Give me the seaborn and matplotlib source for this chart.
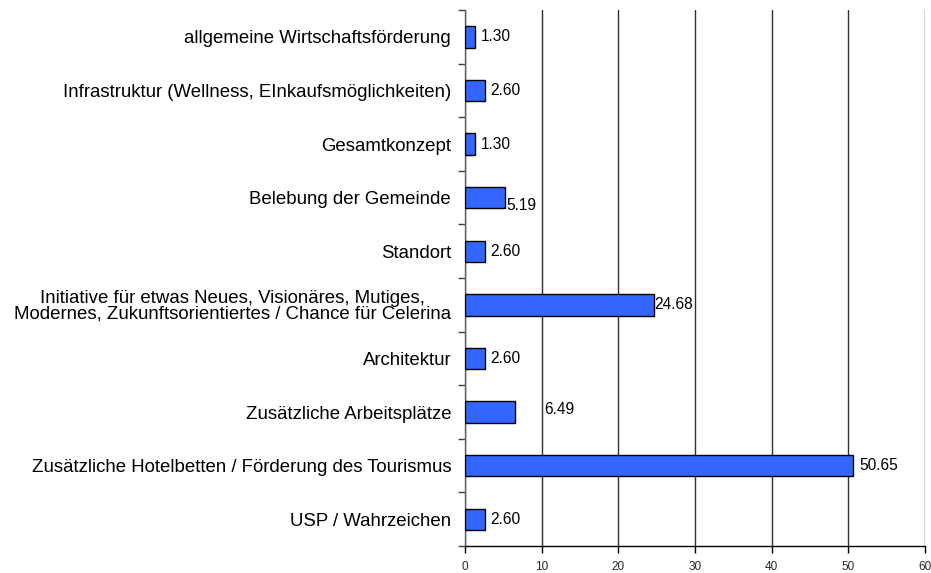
import seaborn as sns
import pandas as pd
import matplotlib.pyplot as plt
from matplotlib.ticker import FixedLocator

categories = [
    "allgemeine Wirtschaftsförderung",
    "Infrastruktur (Wellness, EInkaufsmöglichkeiten)",
    "Gesamtkonzept",
    "Belebung der Gemeinde",
    "Standort",
    "Initiative für etwas Neues, Visionäres, Mutiges,\nModernes, Zukunftsorientiertes / Chance für Celerina",
    "Architektur",
    "Zusätzliche Arbeitsplätze",
    "Zusätzliche Hotelbetten / Förderung des Tourismus",
    "USP / Wahrzeichen",
]
values = [1.30, 2.60, 1.30, 5.19, 2.60, 24.68, 2.60, 6.49, 50.65, 2.60]

# the original places a couple of value labels slightly off the bar end (points)
label_dx = [0, 0, 0, -3, 0, -4, 0, 17, 0, 0]
label_dy = [0, 0, 0, -6, 0, 0, 0, 2, 0, 0]

df = pd.DataFrame({"Kategorie": categories, "Anteil": values})

sns.set_theme(style="white")
plt.rcParams['font.family'] = ['Liberation Sans', 'DejaVu Sans']

fig, ax = plt.subplots(figsize=(9.31, 5.73), dpi=100)
fig.subplots_adjust(left=0.4995, right=0.9936, top=0.9825, bottom=0.047)

sns.barplot(data=df, y="Kategorie", x="Anteil", orient="h", color="#3366FF",
            saturation=1, width=0.4, edgecolor="black", linewidth=1, ax=ax, zorder=3)

ax.set_xlim(0, 60)
ax.set_ylim(len(categories) - 0.5, -0.5)
ax.set_xticks(range(0, 61, 10))
ax.xaxis.grid(True, color="#303030", linewidth=1)
ax.set_axisbelow(True)
ax.set_xlabel("")
ax.set_ylabel("")

for i, v in enumerate(values):
    ax.annotate(f"{v:.2f}", xy=(v, i), xytext=(4 + label_dx[i], label_dy[i]),
                textcoords="offset points", va="center", ha="left",
                fontsize=11.2, color="black", zorder=4)

ax.tick_params(axis="y", which="major", length=0, labelsize=13.4, pad=10, colors="black")
for lbl in ax.get_yticklabels():
    lbl.set_multialignment("center")
    lbl.set_linespacing(0.9)
ax.yaxis.set_minor_locator(FixedLocator([i - 0.5 for i in range(len(categories) + 1)]))
ax.tick_params(axis="y", which="minor", length=5, width=1, color="#404040", left=True)
ax.tick_params(axis="x", length=5, width=1, color="black", labelsize=8.5, bottom=True, pad=6)

for s in ["top", "right"]:
    ax.spines[s].set_visible(False)
ax.spines["left"].set_color("#606060")
ax.spines["bottom"].set_color("black")
ax.spines["left"].set_linewidth(1)
ax.spines["bottom"].set_linewidth(1)

plt.savefig("out.png", dpi=100)
